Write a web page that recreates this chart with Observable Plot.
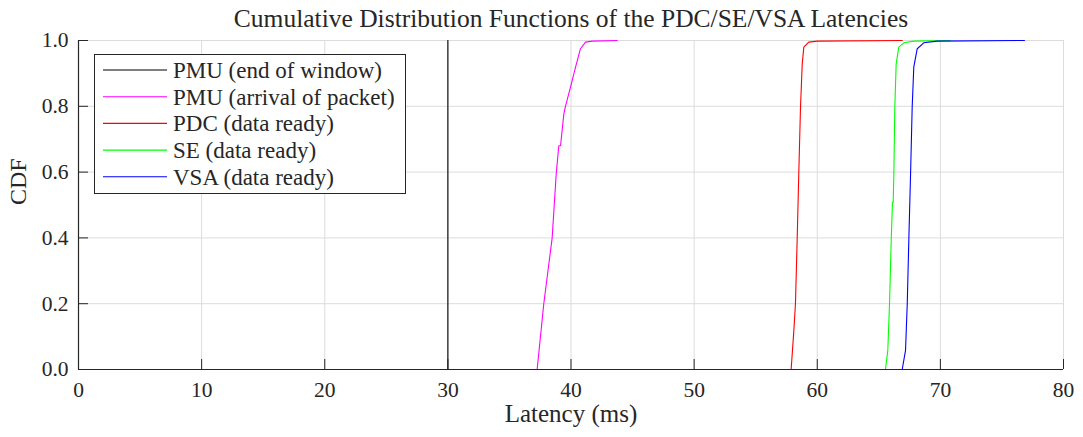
<!DOCTYPE html>
<html>
<head>
<meta charset="utf-8">
<script src="https://cdn.jsdelivr.net/npm/d3@7"></script>
<script src="https://cdn.jsdelivr.net/npm/@observablehq/plot@0.6"></script>
<style>
  html, body { margin: 0; padding: 0; background: #fff; }
  #chart svg { display: block; }
</style>
</head>
<body>
<div id="chart"></div>
<script>
const titleText = "Cumulative Distribution Functions of the PDC/SE/VSA Latencies";
const xLabel = "Latency (ms)";
const yLabel = "CDF";
const xTicks = [0, 10, 20, 30, 40, 50, 60, 70, 80];
const yTicks = [0, 0.2, 0.4, 0.6, 0.8, 1.0];

const seriesNames = ["PMU (end of window)", "PMU (arrival of packet)", "PDC (data ready)", "SE (data ready)", "VSA (data ready)"];
const seriesColors = ["#000000", "#ff00ff", "#ff0000", "#00ff00", "#0000ff"];

// PMU end of window
const pmuEndX = [30, 30];
const pmuEndY = [0, 1];
// PMU arrival of packet
const pmuArrX = [37.25, 37.79, 38.47, 38.80, 39.01, 39.15, 39.42, 39.55, 39.96, 40.37, 40.77, 41.18, 41.72, 43.75];
const pmuArrY = [0.0, 0.20, 0.40, 0.595, 0.68, 0.68, 0.777, 0.80, 0.858, 0.919, 0.975, 0.995, 0.998, 1.0];
// PDC
const pdcX = [57.88, 58.10, 58.23, 58.37, 58.50, 58.64, 58.78, 58.91, 59.31, 60.0, 66.9];
const pdcY = [0.0, 0.119, 0.20, 0.397, 0.595, 0.797, 0.929, 0.98, 0.995, 0.998, 1.0];
// SE
const seX = [65.54, 65.73, 65.87, 66.01, 66.11, 66.17, 66.22, 66.30, 66.41, 66.62, 67.03, 67.84, 70.8];
const seY = [0.0, 0.058, 0.20, 0.397, 0.508, 0.508, 0.595, 0.797, 0.929, 0.98, 0.993, 0.998, 1.0];
// VSA
const vsaX = [66.90, 67.17, 67.31, 67.44, 67.58, 67.71, 67.84, 68.12, 68.65, 69.74, 76.83];
const vsaY = [0.0, 0.058, 0.20, 0.397, 0.595, 0.797, 0.919, 0.975, 0.993, 0.998, 1.0];

const allX = [pmuEndX, pmuArrX, pdcX, seX, vsaX];
const allY = [pmuEndY, pmuArrY, pdcY, seY, vsaY];
const rows = [];
allX.forEach((xs, s) => xs.forEach((x, i) => rows.push({series: seriesNames[s], x, y: allY[s][i]})));

const FONT = "Liberation Serif";
const AX = "#262626";
const W = 1083, H = 437;
const mL = 78, mR = 20, mT = 40, mB = 68;
const frameW = W - mL - mR, frameH = H - mT - mB;
const tickLen = 10;

const plot = Plot.plot({
  width: W, height: H,
  marginLeft: mL, marginRight: mR, marginTop: mT, marginBottom: mB,
  style: {fontFamily: FONT, fontSize: "21px", color: AX, background: "#fff"},
  x: {domain: [0, 80], ticks: xTicks},
  y: {domain: [0, 1], ticks: yTicks},
  color: {domain: seriesNames, range: seriesColors},
  marks: [
    Plot.gridX(xTicks, {stroke: "#dcdcdc", strokeOpacity: 1}),
    Plot.gridY(yTicks, {stroke: "#dcdcdc", strokeOpacity: 1}),
    Plot.line(rows, {x: "x", y: "y", z: "series", stroke: "series", strokeWidth: 1.1}),
    Plot.ruleX([0], {stroke: AX, strokeWidth: 1.2}),
    Plot.ruleY([0], {stroke: AX, strokeWidth: 1.2}),
    Plot.tickX(xTicks, {x: d => d, stroke: AX, insetTop: frameH - tickLen}),
    Plot.tickY(yTicks, {y: d => d, stroke: AX, insetRight: frameW - tickLen}),
    Plot.axisX(xTicks, {tickSize: 0, tickPadding: 12, fontSize: 21.5, fill: AX, label: null}),
    Plot.axisY(yTicks, {tickSize: 0, tickPadding: 10, fontSize: 21.5, fill: AX, tickFormat: d3.format(".1f"), label: null}),
    Plot.text([titleText], {text: d => d, frameAnchor: "top", dy: -22, lineAnchor: "middle", fontSize: 25.5, fill: AX}),
    Plot.text([xLabel], {text: d => d, frameAnchor: "bottom", dy: 44, lineAnchor: "middle", fontSize: 25, fill: AX}),
    Plot.text([yLabel], {text: d => d, frameAnchor: "left", dx: -60, rotate: -90, lineAnchor: "middle", fontSize: 24, fill: AX})
  ]
});

// Legend (drawn into the same SVG)
const svg = d3.select(plot);
const lg = svg.append("g").attr("class", "legend").attr("text-anchor", "start");
lg.append("rect").attr("x", 94.5).attr("y", 54.5).attr("width", 311).attr("height", 139)
  .attr("fill", "#fff").attr("stroke", AX).attr("stroke-width", 1);
seriesNames.forEach((name, i) => {
  const cy = 70 + i * 26.7;
  lg.append("line").attr("x1", 103).attr("x2", 167).attr("y1", cy).attr("y2", cy)
    .attr("stroke", seriesColors[i]).attr("stroke-width", 1.1);
  lg.append("text").attr("x", 173).attr("y", cy).attr("dy", "0.35em").attr("text-anchor", "start")
    .attr("font-family", FONT).attr("font-size", 23).attr("fill", AX).text(name);
});

document.getElementById("chart").appendChild(plot);
</script>
</body>
</html>
